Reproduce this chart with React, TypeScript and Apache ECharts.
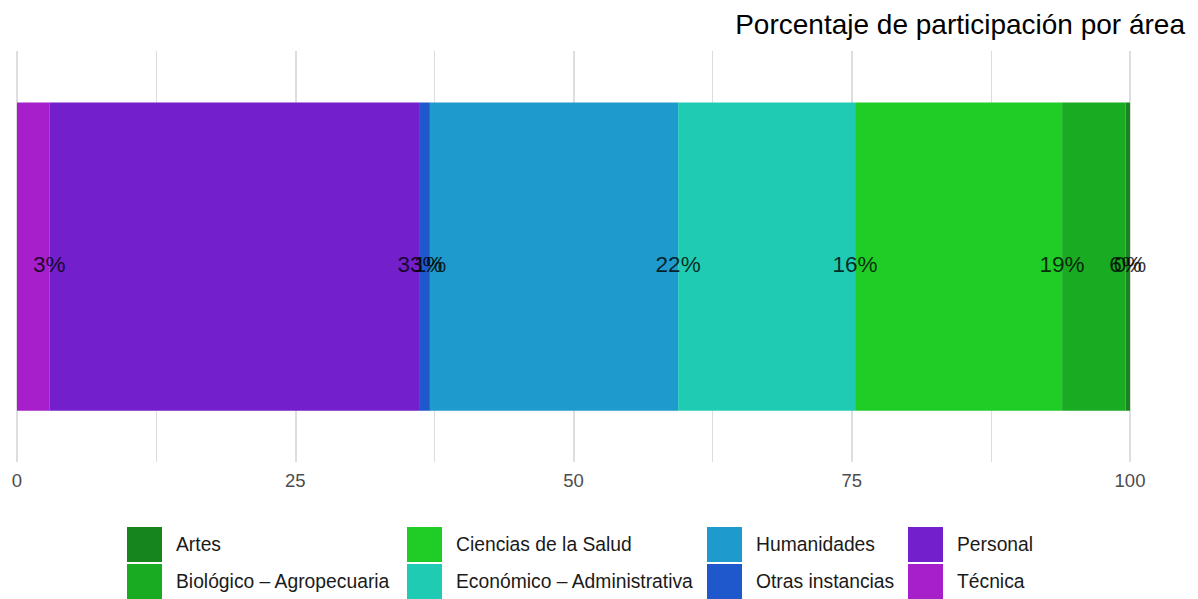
import React, { useEffect, useRef } from "react";
import * as echarts from "echarts";

// Segments, left to right
const areas = [
  "Técnica",
  "Personal",
  "Otras instancias",
  "Humanidades",
  "Económico – Administrativa",
  "Ciencias de la Salud",
  "Biológico – Agropecuaria",
  "Artes",
];
const values = [2.9, 33.3, 0.9, 22.3, 15.9, 18.6, 5.7, 0.4];
const colors = [
  "#a61fcb",
  "#731fcb",
  "#1f58cc",
  "#1e9bcc",
  "#20cbb3",
  "#20cd27",
  "#19ab21",
  "#17851d",
];
const xTicks = [0, 25, 50, 75, 100];
const legendColumns = [
  ["Artes", "Biológico – Agropecuaria"],
  ["Ciencias de la Salud", "Económico – Administrativa"],
  ["Humanidades", "Otras instancias"],
  ["Personal", "Técnica"],
];
const legendLefts = [127, 407, 707, 908];
const titleText = "Porcentaje de participación por área";

const FONT = "'Liberation Sans', Arial, Helvetica, sans-serif";

export default function App() {
  const ref = useRef<HTMLDivElement>(null);
  useEffect(() => {
    if (!ref.current) return;
    const chart = echarts.init(ref.current, null, { renderer: "svg" });

    const cum: number[] = [];
    let s = 0;
    values.forEach((v) => {
      s += v;
      cum.push(s);
    });

    const barSeries = areas.map((name, i) => ({
      name,
      type: "bar",
      stack: "total",
      barWidth: "75%",
      data: [values[i]],
      itemStyle: { color: colors[i] },
      emphasis: { disabled: true },
      z: 2,
    }));

    const labelSeries = areas.map((name, i) => ({
      name: "lbl_" + name,
      type: "scatter",
      symbolSize: 0,
      data: [[cum[i], 0]],
      z: 10,
      silent: true,
      label: {
        show: true,
        position: "inside",
        offset: [0, 8],
        formatter: () => Math.round(values[i]) + "%",
        color: "#000000",
        fontSize: 22.5,
        fontFamily: FONT,
      },
    }));

    chart.setOption({
      animation: false,
      title: {
        text: titleText,
        right: 8,
        top: 5,
        textStyle: {
          fontFamily: FONT,
          fontSize: 28,
          fontWeight: "normal",
          color: "#000000",
        },
      },
      grid: { left: 17, right: 68, top: 51, bottom: 137, containLabel: false },
      xAxis: {
        type: "value",
        min: xTicks[0],
        max: xTicks[xTicks.length - 1],
        interval: 25,
        axisLine: { show: false },
        axisTick: { show: false },
        axisLabel: {
          color: "#4d4d4d",
          fontSize: 18.5,
          fontFamily: FONT,
          margin: 9,
        },
        splitLine: { show: true, lineStyle: { color: "#d6d6d6", width: 1.6 } },
        minorTick: { show: false, splitNumber: 2 },
        minorSplitLine: { show: true, lineStyle: { color: "#dcdcdc", width: 1 } },
      },
      yAxis: {
        type: "category",
        data: [""],
        axisLine: { show: false },
        axisTick: { show: false },
        axisLabel: { show: false },
        splitLine: { show: false },
      },
      legend: legendColumns.map((col, k) => ({
        data: col,
        orient: "vertical",
        left: legendLefts[k],
        top: 527,
        width: 290,
        height: 140,
        itemWidth: 35,
        itemHeight: 35,
        itemGap: 2,
        icon: "rect",
        selectedMode: false,
        padding: 0,
        textStyle: {
          fontFamily: FONT,
          fontSize: 19.3,
          color: "#1a1a1a",
          padding: [0, 0, 0, 9],
        },
      })),
      series: [...barSeries, ...labelSeries],
    });
    return () => chart.dispose();
  }, []);
  return (
    <div
      ref={ref}
      style={{ position: "absolute", left: 0, top: 0, width: 1198, height: 599 }}
    />
  );
}
